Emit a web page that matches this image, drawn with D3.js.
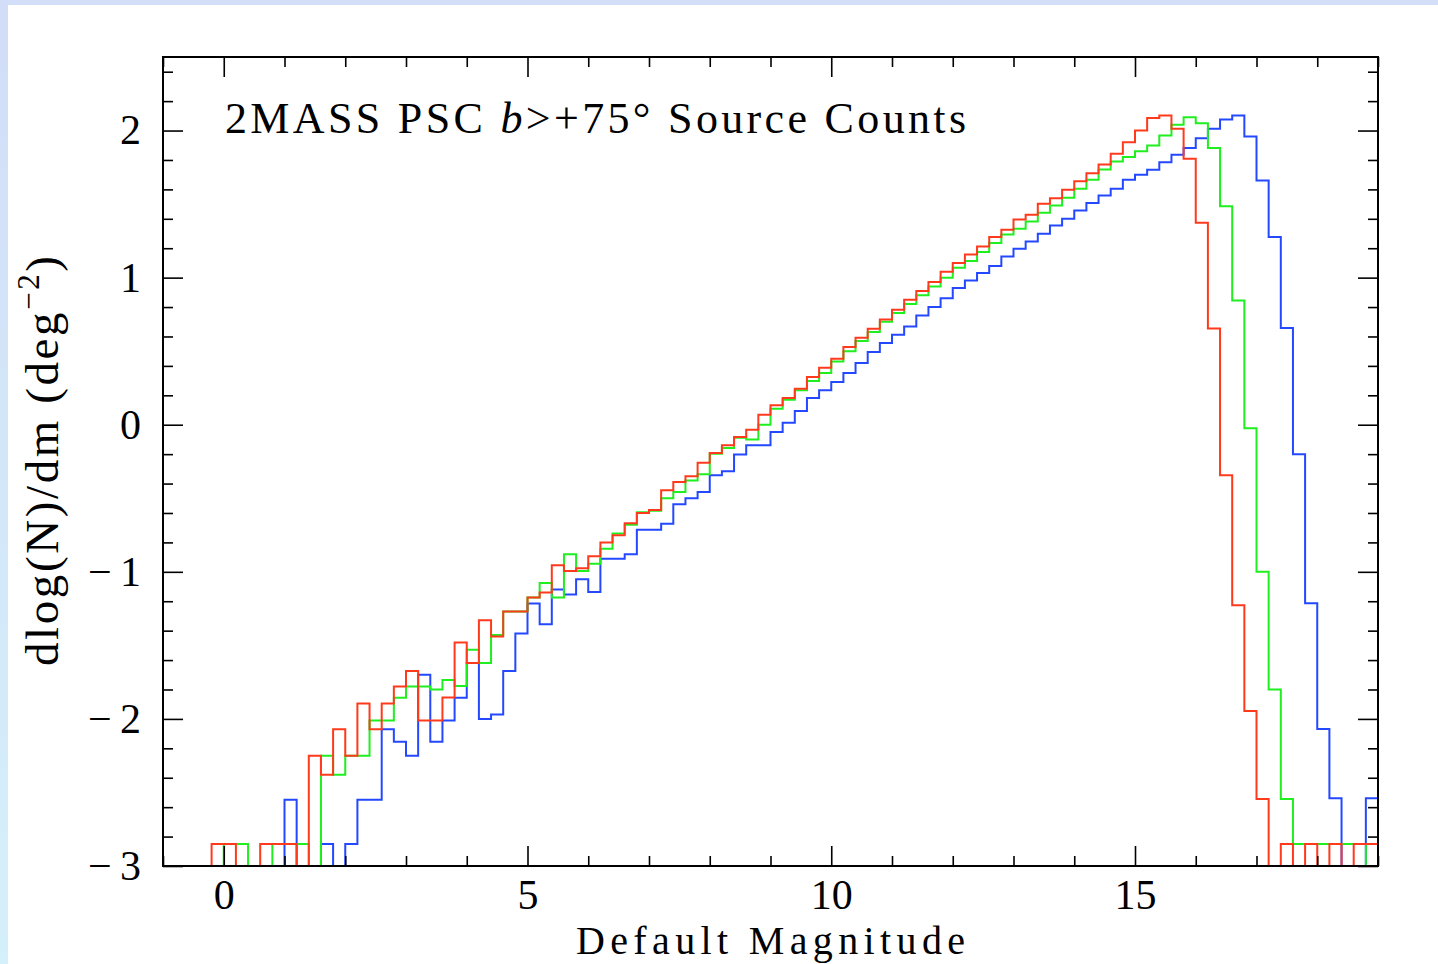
<!DOCTYPE html>
<html><head><meta charset="utf-8">
<script src="https://cdn.jsdelivr.net/npm/d3@7"></script>
<style>html,body{margin:0;padding:0;background:#fff;overflow:hidden}</style>
</head><body>
<svg id="c" width="1438" height="964"></svg>
<script>
// ---- data ----
const binWidth = 0.2;
const binLeft = [
 -0.4,-0.2,0.0,0.2,0.4,0.6,0.8,1.0,1.2,1.4,
 1.6,1.8,2.0,2.2,2.4,2.6,2.8,3.0,3.2,3.4,
 3.6,3.8,4.0,4.2,4.4,4.6,4.8,5.0,5.2,5.4,
 5.6,5.8,6.0,6.2,6.4,6.6,6.8,7.0,7.2,7.4,
 7.6,7.8,8.0,8.2,8.4,8.6,8.8,9.0,9.2,9.4,
 9.6,9.8,10.0,10.2,10.4,10.6,10.8,11.0,11.2,11.4,
 11.6,11.8,12.0,12.2,12.4,12.6,12.8,13.0,13.2,13.4,
 13.6,13.8,14.0,14.2,14.4,14.6,14.8,15.0,15.2,15.4,
 15.6,15.8,16.0,16.2,16.4,16.6,16.8,17.0,17.2,17.4,
 17.6,17.8,18.0,18.2,18.4,18.6,18.8];
const seriesRed = [
 null,-2.85,-2.85,null,null,-2.85,-2.85,-2.85,null,-2.25,
 -2.38,-2.07,-2.25,-1.895,-2.07,-1.895,-1.78,-1.675,-2.01,-2.01,
 -1.855,-1.48,-1.62,-1.33,-1.44,-1.27,-1.27,-1.175,-1.14,-0.956,
 -0.995,-0.975,-0.895,-0.80,-0.752,-0.67,-0.60,-0.58,-0.446,-0.39,
 -0.35,-0.258,-0.192,-0.14,-0.083,-0.034,0.068,0.132,0.181,0.245,
 0.324,0.388,0.449,0.528,0.591,0.653,0.716,0.782,0.85,0.91,
 0.97,1.04,1.099,1.158,1.212,1.276,1.325,1.396,1.427,1.502,
 1.54,1.597,1.656,1.71,1.769,1.842,1.921,2.0,2.086,2.102,
 2.012,1.808,1.373,0.655,-0.344,-1.227,-1.947,-2.545,null,-2.85,
 null,-2.85,null,-2.85,null,-2.85,-2.85];
const seriesGreen = [
 null,null,-2.85,-2.85,null,null,-2.85,-2.85,-2.85,null,
 -2.25,-2.38,-2.25,-2.25,-2.01,-2.01,-1.856,-1.78,-1.78,-1.80,
 -1.736,-1.777,-1.53,-1.62,-1.43,-1.27,-1.27,-1.175,-1.076,-1.175,
 -0.881,-0.995,-0.945,-0.843,-0.74,-0.68,-0.595,-0.585,-0.50,-0.457,
 -0.38,-0.337,-0.197,-0.158,-0.088,-0.10,0.0,0.109,0.17,0.234,
 0.297,0.351,0.43,0.50,0.57,0.63,0.70,0.76,0.82,0.88,
 0.94,1.00,1.067,1.113,1.174,1.235,1.294,1.332,1.382,1.441,
 1.491,1.543,1.604,1.665,1.735,1.79,1.82,1.86,1.898,1.966,
 2.039,2.091,2.05,1.882,1.486,0.845,-0.024,-1.0,-1.80,-2.545,
 -2.85,-2.85,-2.85,-2.85,-2.85,-2.85,null];
const seriesBlue = [
 null,null,null,null,null,null,null,-2.55,null,null,
 -2.85,null,-2.85,-2.55,-2.55,-2.07,-2.156,-2.25,-1.70,-2.156,
 -2.01,-1.856,-1.62,-2.0,-1.97,-1.675,-1.42,-1.216,-1.356,-1.121,
 -1.155,-1.05,-1.137,-0.911,-0.911,-0.88,-0.714,-0.714,-0.673,-0.54,
 -0.50,-0.457,-0.344,-0.317,-0.203,-0.14,-0.14,-0.05,0.014,0.093,
 0.181,0.234,0.29,0.351,0.419,0.494,0.555,0.612,0.668,0.743,
 0.80,0.86,0.929,0.981,1.031,1.079,1.144,1.196,1.246,1.298,
 1.355,1.40,1.457,1.507,1.559,1.604,1.665,1.70,1.733,1.785,
 1.835,1.882,1.948,2.012,2.075,2.102,1.959,1.66,1.276,0.657,
 -0.20,-1.213,-2.069,-2.54,null,null,-2.54];
const xMajorTicks = [0,5,10,15];
const xMinorTicks = [-1,1,2,3,4,6,7,8,9,11,12,13,14,16,17,18,19];
const yMajorTicks = [-3,-2,-1,0,1,2];
const yMinorTicks = [-2.8,-2.6,-2.4,-2.2,-1.8,-1.6,-1.4,-1.2,-0.8,-0.6,-0.4,-0.2,0.2,0.4,0.6,0.8,1.2,1.4,1.6,1.8,2.2,2.4];

// ---- chart ----
const W = 1438, H = 964;
const svg = d3.select('#c');
const FONT = "'Liberation Serif','DejaVu Serif',serif";

const defs = svg.append('defs');
const lg = defs.append('linearGradient').attr('id','lg').attr('x1',0).attr('y1',0).attr('x2',0).attr('y2',1);
lg.append('stop').attr('offset','0%').attr('stop-color','#d2ddf8');
lg.append('stop').attr('offset','100%').attr('stop-color','#d4f0fa');
svg.append('rect').attr('x',0).attr('y',0).attr('width',W).attr('height',H).attr('fill','#fff');
svg.append('rect').attr('x',0).attr('y',0).attr('width',W).attr('height',5).attr('fill','#d3dff8');
svg.append('rect').attr('x',0).attr('y',0).attr('width',8).attr('height',H).attr('fill','url(#lg)');

const m = {l:163, t:57, r:1378, b:866};
const x = d3.scaleLinear().domain([-1,19]).range([m.l,m.r]);
const y = d3.scaleLinear().domain([-3,2.5]).range([m.b,m.t]);

defs.append('clipPath').attr('id','clip').append('rect')
  .attr('x',m.l).attr('y',m.t).attr('width',m.r-m.l).attr('height',m.b-m.t);

const floorVal = -3.2;
function stepPoints(vals){
  const pts = [[x(binLeft[0]), y(floorVal)]];
  vals.forEach((v,i)=>{
    const vv = (v==null) ? floorVal : v;
    pts.push([x(binLeft[i]), y(vv)]);
    pts.push([x(binLeft[i]+binWidth), y(vv)]);
  });
  pts.push([x(binLeft[binLeft.length-1]+binWidth), y(floorVal)]);
  return pts;
}
const line = d3.line();
const g = svg.append('g').attr('clip-path','url(#clip)');
[[seriesBlue,'#2348ff'],[seriesGreen,'#1fee1f'],[seriesRed,'#ff3a1c']].forEach(([s,c])=>{
  g.append('path').attr('d', line(stepPoints(s)))
    .attr('fill','none').attr('stroke',c).attr('stroke-width',2).attr('stroke-linejoin','miter');
});

// axes
function styleAxis(sel){
  sel.select('.domain').remove();
  sel.selectAll('.tick line').attr('stroke','#000').attr('stroke-width',1.6);
  sel.selectAll('.tick text').attr('font-family',FONT).attr('font-size',42).attr('fill','#000');
}
const fmtY = d => d<0 ? '\u2212\u2009' + Math.abs(d) : String(d);
svg.append('g').attr('transform',`translate(0,${m.b})`)
  .call(d3.axisBottom(x).tickValues(xMajorTicks).tickSize(-20).tickPadding(13).tickFormat(d3.format('d')))
  .call(styleAxis);
svg.append('g').attr('transform',`translate(0,${m.b})`)
  .call(d3.axisBottom(x).tickValues(xMinorTicks).tickSize(-10).tickFormat(''))
  .call(styleAxis);
svg.append('g').attr('transform',`translate(0,${m.t})`)
  .call(d3.axisTop(x).tickValues(xMajorTicks).tickSize(-20).tickFormat(''))
  .call(styleAxis);
svg.append('g').attr('transform',`translate(0,${m.t})`)
  .call(d3.axisTop(x).tickValues(xMinorTicks).tickSize(-10).tickFormat(''))
  .call(styleAxis);
svg.append('g').attr('transform',`translate(${m.l},0)`)
  .call(d3.axisLeft(y).tickValues(yMajorTicks).tickSize(-20).tickPadding(22).tickFormat(fmtY))
  .call(styleAxis);
svg.append('g').attr('transform',`translate(${m.l},0)`)
  .call(d3.axisLeft(y).tickValues(yMinorTicks).tickSize(-10).tickFormat(''))
  .call(styleAxis);
svg.append('g').attr('transform',`translate(${m.r},0)`)
  .call(d3.axisRight(y).tickValues(yMajorTicks).tickSize(-20).tickFormat(''))
  .call(styleAxis);
svg.append('g').attr('transform',`translate(${m.r},0)`)
  .call(d3.axisRight(y).tickValues(yMinorTicks).tickSize(-10).tickFormat(''))
  .call(styleAxis);

// frame
svg.append('rect').attr('x',m.l).attr('y',m.t).attr('width',m.r-m.l).attr('height',m.b-m.t)
  .attr('fill','none').attr('stroke','#000').attr('stroke-width',2);

// title
const t = svg.append('text').attr('x',225).attr('y',133)
  .attr('font-family',FONT).attr('font-size',44).attr('fill','#000')
  .attr('textLength',741).attr('lengthAdjust','spacing');
t.append('tspan').text('2MASS PSC ');
t.append('tspan').attr('font-style','italic').text('b');
t.append('tspan').text('>+75\u00B0 Source Counts');

// x label
svg.append('text').attr('x',576).attr('y',954)
  .attr('font-family',FONT).attr('font-size',40).attr('fill','#000')
  .attr('textLength',389).attr('lengthAdjust','spacing')
  .text('Default Magnitude');

// y label
const yl = svg.append('text').attr('transform','translate(58,666) rotate(-90)')
  .attr('font-family',FONT).attr('font-size',47).attr('fill','#000')
  .attr('textLength',410).attr('lengthAdjust','spacing');
yl.append('tspan').text('dlog(N)/dm (deg');
yl.append('tspan').attr('dy',-19).attr('font-size',31).text('\u22122');
yl.append('tspan').attr('dy',19).text(')');
</script>
</body></html>
